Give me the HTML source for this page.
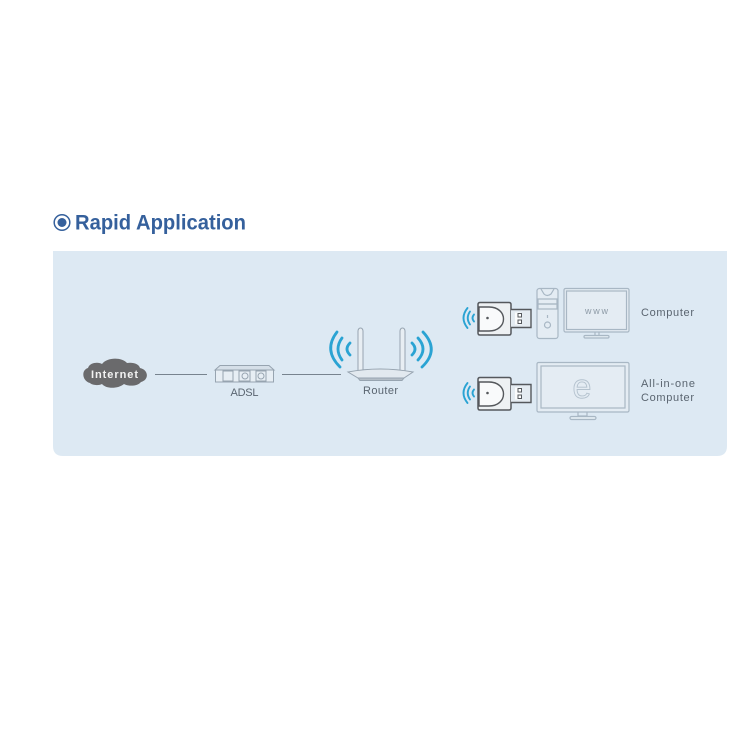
<!DOCTYPE html>
<html><head><meta charset="utf-8"><style>
html,body{margin:0;padding:0;background:#fff}
svg{display:block}
text{font-family:"Liberation Sans",sans-serif}
</style></head><body>
<svg width="742" height="742" viewBox="0 0 742 742" xmlns="http://www.w3.org/2000/svg">
<defs>
<filter id="s" filterUnits="userSpaceOnUse" x="0" y="0" width="742" height="742"><feGaussianBlur stdDeviation="0.35"/></filter>
<g id="d">
<path d="M0 2.500Q0 0.500 2 0.500H31Q33 0.500 33 2.500V31Q33 33 31 33H2Q0 33 0 31Z" fill="#eef1f3" stroke="#55585c" stroke-width="1.500"/>
<path d="M33 7.500H53V25.500H33" fill="#e4ebf1" stroke="#55585c" stroke-width="1.400"/>
<rect x="37" y="10.500" width="6" height="12" fill="#fbfcfd"/>
<rect x="40" y="11.500" width="3.500" height="3.500" fill="none" stroke="#55585c" stroke-width="1"/>
<rect x="40" y="18" width="3.500" height="3.500" fill="none" stroke="#55585c" stroke-width="1"/>
<path d="M1 5H11C20 5 25.500 10.500 25.500 17S20 29 11 29H1Z" fill="#f9fafb" stroke="#55585c" stroke-width="1.400"/>
<circle cx="9.500" cy="16" r="1.300" fill="#55585c"/>
<g fill="none" stroke="#2ba3d3" stroke-linecap="round" stroke-width="1.900">
<path d="M-4 12.500Q-7 16 -4 19.500"/><path d="M-8 9.500Q-12.500 16 -8 22.500"/><path d="M-10.500 6Q-18.500 16 -10.500 26"/>
</g>
</g>
</defs>
<rect width="742" height="742" fill="#fff"/>
<path d="M53 251H727V446Q727 456 717 456H63Q53 456 53 446Z" fill="#dde9f3"/>
<g filter="url(#s)">
<circle cx="62" cy="222.500" r="7.800" fill="none" stroke="#34609c" stroke-width="1.500"/>
<circle cx="62" cy="222.500" r="4.500" fill="#34609c"/>
<text x="75" y="229.500" font-size="21" font-weight="700" fill="#34609c" textLength="171" lengthAdjust="spacingAndGlyphs">Rapid Application</text>

<path d="M90 383C82 381 81 370 88 368C90 362 99 362 102 364C107 357 122 357 127 363C133 362 139 364 140 368C149 370 149 380 141 382C137 387 127 386 124 384C118 389 106 389 102 384C98 386 92 385 90 383Z" fill="#6b6a6c"/>
<text x="91" y="378" font-size="11" font-weight="700" fill="#f2f2f2" textLength="47">Internet</text>
<path d="M155 374.500H207M282 374.500H341" stroke="#77838e" stroke-width="1"/>

<g fill="none" stroke="#97a4b0" stroke-width="1">
<path d="M215 370L220 365.500H269L274 370Z" fill="#d5dfe8"/>
<rect x="215.500" y="370" width="58" height="12" fill="#e7eef4"/>
<rect x="223" y="371" width="10" height="10"/><rect x="239" y="371" width="11" height="10"/><rect x="256" y="371" width="10" height="10"/>
<circle cx="245" cy="376" r="3"/><circle cx="261" cy="376" r="3"/>
</g>
<text x="244.500" y="396" font-size="11" fill="#5a6570" text-anchor="middle" textLength="28">ADSL</text>

<g fill="#e8eef3" stroke="#97a4b0" stroke-width="1">
<path d="M358 371V331A2.500 3 0 0 1 363 331V371Z"/>
<path d="M400 371V331A2.500 3 0 0 1 405 331V371Z"/>
<path d="M348 372Q380 366 413 372L404 378H358Z" fill="#e2e9ef"/>
<path d="M358 378H404L402 380.500H360Z" fill="#b4bec7"/>
</g>
<g fill="none" stroke="#2ba3d3" stroke-linecap="round" stroke-width="2.800">
<path d="M350 343Q344 349 350 355"/><path d="M342 338Q334 349 342 360"/><path d="M337 332Q323 350 340 367"/>
<path d="M412 343Q418 349 412 355"/><path d="M418 338Q428 349 418 360"/><path d="M423 332Q440 350 422 367"/>
</g>
<text x="380.500" y="394" font-size="11" fill="#5a6570" text-anchor="middle" textLength="35">Router</text>

<use href="#d" x="478" y="302"/>
<use href="#d" x="478" y="377"/>

<g fill="#e4ecf3" stroke="#a8b7c4" stroke-width="1.200">
<rect x="537" y="288.500" width="21" height="50" rx="2.500"/>
<path d="M541 289L544 294Q547 297 551 294L554 289" fill="none"/>
<rect x="538" y="299" width="19" height="5" fill="none"/><rect x="538" y="304" width="19" height="5" fill="none"/>
<circle cx="547.500" cy="325" r="3"/>
<path d="M547.500 315V318" fill="none"/>
<rect x="564" y="288.500" width="65" height="43.500" rx="1.500"/>
<rect x="566.500" y="291" width="60" height="38.500" fill="none"/>
<path d="M595 332V336H599V332" fill="none"/>
<rect x="584" y="335.500" width="25" height="2.500" rx="1.200"/>
<rect x="537" y="362.500" width="92" height="49.500" rx="1.500"/>
<rect x="541" y="366" width="84" height="42" fill="none"/>
<path d="M578 412V416H587V412" fill="none"/>
<rect x="570" y="416.500" width="26" height="3" rx="1.500"/>
</g>
<text x="596.500" y="314" font-size="9" fill="#8d9aa6" text-anchor="middle" textLength="23">www</text>
<text x="582" y="398" font-size="34" fill="#e4ecf3" stroke="#b4c2ce" stroke-width="0.900" text-anchor="middle">e</text>
<g font-size="11" fill="#5a6570">
<text x="641" y="316" textLength="53">Computer</text>
<text x="641" y="387" textLength="54">All-in-one</text>
<text x="641" y="401" textLength="53">Computer</text>
</g>
</g>
</svg>
</body></html>
